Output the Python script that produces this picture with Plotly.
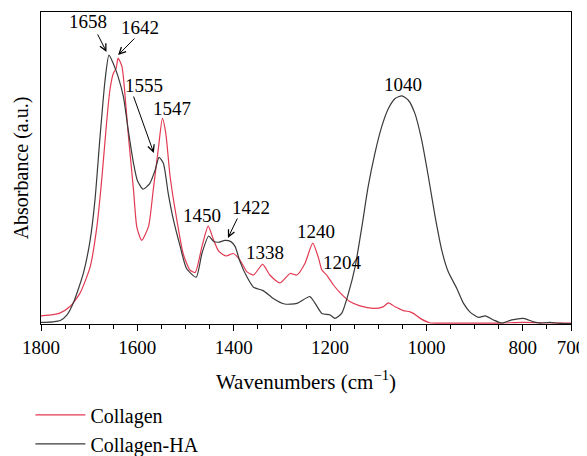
import plotly.graph_objects as go

# ---- data ----
ha_wn = [1800, 1775, 1760, 1746, 1733, 1712, 1698, 1688, 1678, 1667, 1659, 1650, 1640, 1629,
         1619, 1608, 1600, 1588, 1574, 1563, 1555, 1546, 1536, 1525, 1511, 1498, 1478, 1466,
         1452, 1442, 1432, 1418, 1406, 1397, 1387, 1373, 1359, 1339, 1318, 1294, 1269, 1242,
         1231, 1217, 1200, 1190, 1176, 1162, 1148, 1134, 1121, 1107, 1093, 1079, 1065, 1051,
         1038, 1024, 1010, 996, 982, 968, 955, 937, 923, 910, 892, 878, 861, 844, 823, 799,
         778, 764, 744, 723, 700]
ha_abs = [0.005, 0.007, 0.011, 0.029, 0.067, 0.163, 0.269, 0.397, 0.590, 0.782, 0.862, 0.835,
          0.793, 0.729, 0.622, 0.515, 0.460, 0.432, 0.451, 0.494, 0.534, 0.515, 0.419, 0.333,
          0.248, 0.178, 0.150, 0.226, 0.282, 0.265, 0.262, 0.268, 0.264, 0.248, 0.200, 0.152,
          0.118, 0.107, 0.082, 0.064, 0.066, 0.088, 0.066, 0.034, 0.029, 0.018, 0.034, 0.098,
          0.184, 0.312, 0.440, 0.547, 0.632, 0.691, 0.723, 0.731, 0.718, 0.675, 0.590, 0.472,
          0.344, 0.235, 0.168, 0.114, 0.066, 0.039, 0.021, 0.026, 0.013, 0.003, 0.013, 0.018,
          0.007, 0.003, 0.005, 0.002, 0.001]

col_wn = [1800, 1775, 1761, 1740, 1719, 1698, 1684, 1674, 1664, 1657, 1650, 1644, 1640, 1632,
          1626, 1619, 1608, 1601, 1591, 1577, 1567, 1556, 1548, 1541, 1532, 1518, 1505, 1491,
          1480, 1466, 1453, 1442, 1432, 1422, 1415, 1401, 1387, 1373, 1359, 1340, 1325, 1304,
          1283, 1269, 1252, 1236, 1224, 1217, 1207, 1193, 1179, 1159, 1138, 1110, 1090, 1079,
          1065, 1048, 1034, 1027, 1013, 993, 950, 900, 850, 800, 760, 700]
col_abs = [0.026, 0.030, 0.035, 0.056, 0.099, 0.183, 0.312, 0.462, 0.643, 0.750, 0.803, 0.820,
           0.852, 0.825, 0.740, 0.610, 0.430, 0.310, 0.268, 0.312, 0.430, 0.568, 0.659, 0.611,
           0.472, 0.333, 0.226, 0.173, 0.165, 0.248, 0.314, 0.270, 0.235, 0.222, 0.218, 0.226,
           0.205, 0.168, 0.157, 0.191, 0.157, 0.132, 0.162, 0.157, 0.195, 0.259, 0.211, 0.173,
           0.157, 0.125, 0.100, 0.072, 0.058, 0.050, 0.055, 0.068, 0.055, 0.043, 0.039, 0.034,
           0.018, 0.004, 0.003, 0.003, 0.003, 0.005, 0.004, 0.003]

tick_vals = [1800, 1600, 1400, 1200, 1000, 800, 700]
tick_text = ["1800", "1600", "1400", "1200", "1000", "800", "700"]

# peak labels: (text, label_wn, label_abs)
labels = [("1658", 1702, 0.968), ("1642", 1595, 0.949), ("1555", 1586, 0.766),
          ("1547", 1528, 0.692), ("1450", 1466, 0.349), ("1422", 1364, 0.372),
          ("1338", 1335, 0.228), ("1240", 1229, 0.295), ("1204", 1175, 0.196),
          ("1040", 1049, 0.769)]
# arrows: (tail_wn, tail_abs, head_wn, head_abs)
arrows = [(1684, 0.933, 1664, 0.872), (1603, 0.920, 1640, 0.862),
          (1609, 0.734, 1566, 0.548), (1391, 0.343, 1412, 0.276)]

FONT = "Liberation Serif"
RED = "#e23a52"
BLACK = "#3a3a3a"

fig = go.Figure()
fig.add_trace(go.Scatter(x=col_wn, y=col_abs, mode="lines", name="Collagen",
                         line=dict(color=RED, width=1.2, shape="spline", smoothing=0.6)))
fig.add_trace(go.Scatter(x=ha_wn, y=ha_abs, mode="lines", name="Collagen-HA",
                         line=dict(color=BLACK, width=1.2, shape="spline", smoothing=0.6)))

for t, xw, ya in labels:
    fig.add_annotation(x=xw, y=ya, text=t, showarrow=False,
                       font=dict(family=FONT, size=19, color="black"))
for tx, ty, hx, hy in arrows:
    fig.add_annotation(x=hx, y=hy, ax=tx, ay=ty, axref="x", ayref="y", xref="x", yref="y",
                       text="", showarrow=True, arrowhead=5, arrowsize=1.3,
                       arrowwidth=1, arrowcolor="black")

fig.update_layout(
    width=595, height=464,
    margin=dict(l=33, r=32, t=4, b=148),
    plot_bgcolor="white", paper_bgcolor="white",
    font=dict(family=FONT, size=19, color="black"),
    showlegend=True,
    legend=dict(x=-0.02, y=-0.4468, xanchor="left", yanchor="bottom", orientation="v",
                itemwidth=50,
                font=dict(family=FONT, size=20, color="black"), bgcolor="rgba(0,0,0,0)"),
    xaxis=dict(range=[1800, 700], tickvals=tick_vals, ticktext=tick_text, automargin=False,
               ticks="outside", ticklen=6, tickwidth=1, tickcolor="black",
               tickfont=dict(family=FONT, size=19),
               minor=dict(dtick=50, tick0=700, ticks="outside", ticklen=4, tickcolor="black"),
               showline=True, linecolor="black", linewidth=1, mirror=True,
               showgrid=False, zeroline=False,
               title=dict(text="Wavenumbers (cm<sup>−1</sup>)", standoff=17,
                          font=dict(family=FONT, size=21))),
    yaxis=dict(range=[0, 1], showticklabels=False, ticks="", showline=True, automargin=False,
               linecolor="black", linewidth=1, mirror=True, showgrid=False, zeroline=False,
               title=dict(text="Absorbance (a.u.)", standoff=6,
                          font=dict(family=FONT, size=20))),
)

fig.write_html("out.html")
